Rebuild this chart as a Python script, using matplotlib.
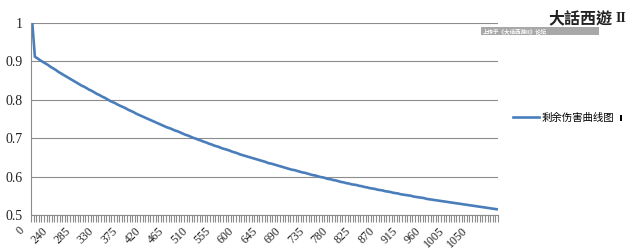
import matplotlib
matplotlib.use("Agg")
import matplotlib.pyplot as plt
from matplotlib.patches import Rectangle
from matplotlib.transforms import ScaledTranslation

# ---- data -------------------------------------------------------------
categories = [0] + list(range(200, 1095, 5))          # 180 categories
series_name = "剩余伤害曲线图"
values = [
    1.000,
    0.912, 0.908, 0.903, 0.899, 0.895, 0.891, 0.886, 0.882, 0.878, 0.873,
    0.869, 0.865, 0.861, 0.857, 0.853, 0.849, 0.845, 0.841, 0.837, 0.834,
    0.830, 0.826, 0.823, 0.819, 0.815, 0.812, 0.808, 0.805, 0.801, 0.797,
    0.794, 0.791, 0.787, 0.784, 0.781, 0.778, 0.774, 0.771, 0.768, 0.764,
    0.761, 0.758, 0.755, 0.752, 0.749, 0.746, 0.743, 0.740, 0.737, 0.734,
    0.731, 0.728, 0.726, 0.723, 0.720, 0.718, 0.715, 0.712, 0.709, 0.707,
    0.704, 0.701, 0.699, 0.696, 0.694, 0.691, 0.689, 0.686, 0.684, 0.681,
    0.679, 0.677, 0.674, 0.672, 0.670, 0.668, 0.665, 0.663, 0.661, 0.658,
    0.656, 0.654, 0.652, 0.650, 0.648, 0.646, 0.644, 0.642, 0.640, 0.638,
    0.635, 0.634, 0.632, 0.630, 0.628, 0.626, 0.624, 0.622, 0.620, 0.618,
    0.617, 0.615, 0.613, 0.611, 0.610, 0.608, 0.606, 0.604, 0.603, 0.601,
    0.599, 0.598, 0.596, 0.594, 0.593, 0.591, 0.590, 0.588, 0.586, 0.585,
    0.583, 0.582, 0.580, 0.579, 0.578, 0.576, 0.575, 0.573, 0.572, 0.570,
    0.569, 0.568, 0.566, 0.565, 0.564, 0.562, 0.561, 0.560, 0.558, 0.557,
    0.556, 0.554, 0.553, 0.552, 0.551, 0.550, 0.548, 0.547, 0.546, 0.545,
    0.544, 0.542, 0.541, 0.540, 0.539, 0.538, 0.537, 0.536, 0.535, 0.534,
    0.533, 0.532, 0.531, 0.530, 0.529, 0.528, 0.527, 0.526, 0.525, 0.524,
    0.523, 0.522, 0.521, 0.520, 0.519, 0.518, 0.517, 0.516, 0.515,
]
label_every = 9
y_ticks = [0.5, 0.6, 0.7, 0.8, 0.9, 1.0]
y_tick_labels = ["0.5", "0.6", "0.7", "0.8", "0.9", "1"]

# ---- figure -----------------------------------------------------------
W, H, DPI = 633, 252, 100
fig = plt.figure(figsize=(W / DPI, H / DPI), dpi=DPI, facecolor="white")
ax = fig.add_axes([31 / W, (H - 215) / H, 467 / W, 192 / H])

line_color = "#4A7EBB"
grid_color = "#8C8C8C"
idx = list(range(len(categories)))
ax.plot(idx, values, color=line_color, lw=1.9, solid_joinstyle="round",
        label=series_name)

ax.set_xlim(-0.5, len(categories) - 0.5)
ax.set_ylim(0.5, 1.0)

ax.set_yticks(y_ticks)
ax.set_yticklabels(y_tick_labels, family="Liberation Serif", fontsize=10,
                   color="#222222")
ax.yaxis.grid(True, color=grid_color, lw=0.8)
ax.tick_params(axis="y", length=0, pad=6)

# category tick marks between categories, labels every 9th category
ax.set_xticks([i - 0.5 for i in range(len(categories) + 1)], minor=True)
ax.set_xticks([])
ax.tick_params(axis="x", which="minor", length=5, width=0.8,
               color=grid_color, direction="out")
offset = ScaledTranslation(-10 / DPI, -14 / DPI, fig.dpi_scale_trans)
label_tf = ax.get_xaxis_transform() + offset
for i in idx[::label_every]:
    ax.text(i, 0, str(categories[i]), transform=label_tf, rotation=45,
            ha="right", va="center", rotation_mode="anchor",
            family="Liberation Serif", fontsize=8.5, color="#222222",
            clip_on=False)

for s in ["top", "right"]:
    ax.spines[s].set_visible(False)
for s in ["left", "bottom"]:
    ax.spines[s].set_color(grid_color)
    ax.spines[s].set_linewidth(0.8)
ax.set_axisbelow(True)

ax.legend(loc="center left", bbox_to_anchor=(508 / W, 1 - 118 / H),
          bbox_transform=fig.transFigure, frameon=False, borderpad=0,
          handlelength=2.5, handletextpad=0.2,
          prop={"family": ["Noto Sans CJK SC", "DejaVu Sans"], "size": 7.5})

# small black mark next to the legend
fig.add_artist(Rectangle((620 / W, 1 - 121 / H), 2 / W, 6 / H,
                         transform=fig.transFigure, color="black", lw=0))

# watermark (forum logo)
fig.add_artist(Rectangle((481 / W, 1 - 35 / H), 118 / W, 8 / H,
                         transform=fig.transFigure, color="#A8A8A8", lw=0))
fig.text(483 / W, 1 - 31 / H, "上传于《大话西游II》论坛", fontsize=4,
         color="white", va="center", ha="left",
         family=["Noto Sans CJK TC", "DejaVu Sans"], weight="bold")
fig.text(548 / W, 1 - 18 / H, "大話西遊", fontsize=11.5, color="#222222",
         va="center", ha="left", family=["Noto Sans CJK TC", "DejaVu Sans"],
         weight="bold")
fig.text(616 / W, 1 - 18 / H, "II", fontsize=10, color="#222222",
         va="center", ha="left", family="Liberation Serif", weight="bold")

fig.savefig("out.png", dpi=DPI, facecolor="white")
